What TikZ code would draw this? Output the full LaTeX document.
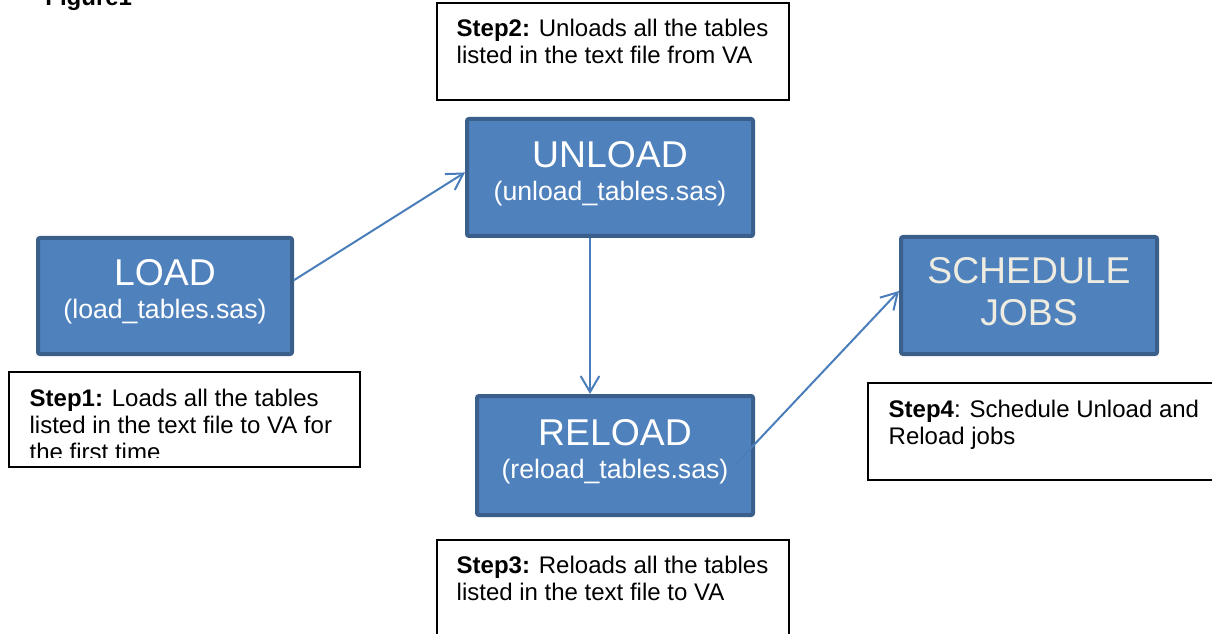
\documentclass[tikz,border=0pt]{standalone}
\usepackage{fontspec}
\setmainfont{Liberation Sans}
\usetikzlibrary{arrows.meta, positioning}

\definecolor{boxfill}{HTML}{4F81BD}
\definecolor{boxline}{HTML}{3A5F8B}
\definecolor{flowblue}{HTML}{4A7EBB}
\definecolor{cream}{HTML}{EEECE1}

\newcommand{\subname}[1]{{\fontsize{20}{24}\selectfont #1}}

\begin{document}
\begin{tikzpicture}[
            x=0.75pt,
            y=-0.75pt,
            semithick
        ]

        \tikzstyle{proc}=[
            draw=boxline,
            fill=boxfill,
            line width=3pt,
            rounded corners=1.5pt,
            text=white,
            align=center,
            inner sep=0pt,
            text depth=10pt,
            font=\fontsize{28}{24.75}\selectfont
        ]
        \tikzstyle{stepbox}=[
            draw=black,
            fill=white,
            line width=1.1pt,
            inner sep=0pt
        ]
        \tikzstyle{steptext}=[
            anchor=north west,
            align=left,
            inner sep=0pt,
            font=\fontsize{18}{20.25}\selectfont
        ]
        \tikzstyle{flow}=[
            draw=flowblue,
            line width=1.5pt,
            -{Straight Barb[length=12pt,width=14pt]}
        ]

        \useasboundingbox (0,0) rectangle (1212,634);
        \clip (0,0) rectangle (1212,634);

        \node[anchor=base west, inner sep=0pt, font=\bfseries\fontsize{18}{20}\selectfont] (fig) at (45,6) {Figure1};

        % process boxes
        \node[proc, minimum width=190.5pt, minimum height=87pt] (load) at (165,296) {LOAD\\\subname{(load\_tables.sas)}};
        \node[proc, minimum width=214.5pt, minimum height=87.75pt] (unload) at (610,177.5) {UNLOAD\\\subname{(unload\_tables.sas)}};
        \node[proc, minimum width=207pt, minimum height=89.25pt] (reload) at (615,455.5) {RELOAD\\\subname{(reload\_tables.sas)}};
        \node[proc, minimum width=192pt, minimum height=87.75pt, text=cream, text depth=5.5pt, font=\fontsize{28}{31.5}\selectfont] (sched) at (1029,295.5) {SCHEDULE\\JOBS};

        % step boxes
        \node[stepbox, minimum width=263.25pt, minimum height=71.25pt] (s1box) at (184.5,419.5) {};
        \begin{scope}
            \clip (9,372) rectangle (360,457);
            \node[steptext] (s1) at ([shift={(21,17)}]s1box.north west) {\textbf{Step1:} Loads all the tables\\listed in the text file to VA for\\the first time};
        \end{scope}
        \node[stepbox, minimum width=264pt, minimum height=72.75pt] (s2box) at (613,51.5) {};
        \node[steptext] (s2) at ([shift={(20,16)}]s2box.north west) {\textbf{Step2:} Unloads all the tables\\listed in the text file from VA};
        \node[stepbox, minimum width=264pt, minimum height=75pt] (s3box) at (613,590) {};
        \node[steptext] (s3) at ([shift={(20,16)}]s3box.north west) {\textbf{Step3:} Reloads all the tables\\listed in the text file to VA};
        \node[stepbox, minimum width=261pt, minimum height=72.75pt] (s4box) at (1042,431.5) {};
        \node[steptext] (s4) at ([shift={(21,17)}]s4box.north west) {\textbf{Step4}: Schedule Unload and\\Reload jobs};

        % connectors
        \coordinate (rlstart) at (735,465);
        \draw[flow] (load.7) -- (unload.178);
        \draw[flow] ([xshift=-15pt]unload.south) -- ([xshift=-15pt]unload.south |- reload.north);
        \draw[flow] (rlstart) -- (sched.178);
    \end{tikzpicture}
\end{document}
